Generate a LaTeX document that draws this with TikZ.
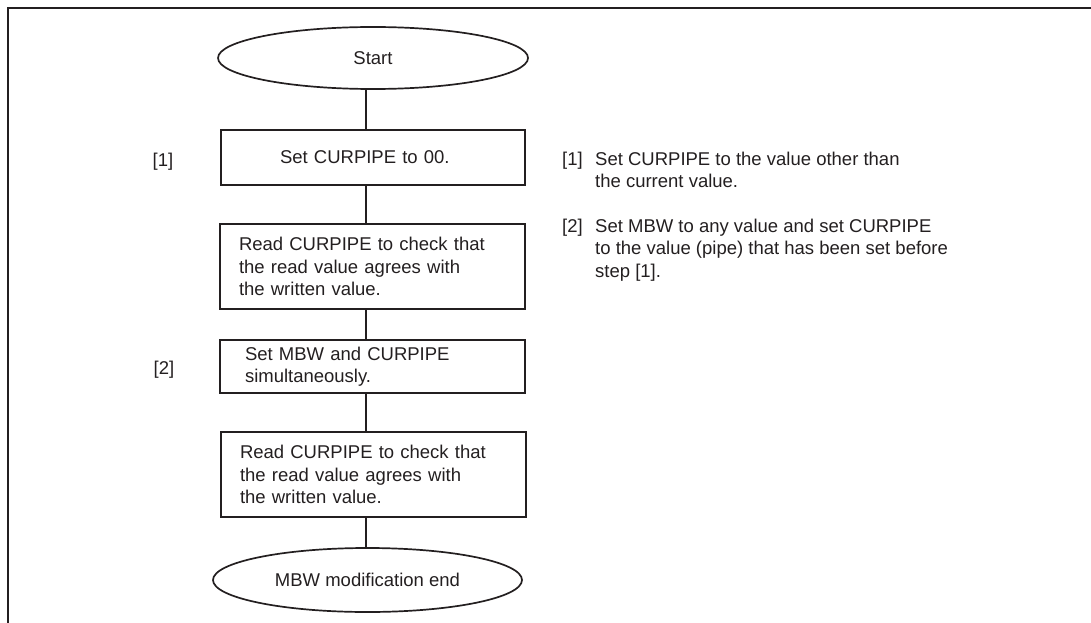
\documentclass[tikz,border=0pt]{standalone}
\usepackage{fontspec}
\setmainfont{Liberation Sans}
\usetikzlibrary{shapes.geometric}
\definecolor{ink}{RGB}{35,31,32}
\begin{document}
\begin{tikzpicture}[x=1pt,y=-1pt,
  every node/.style={font=\fontsize{18.5}{22.5}\selectfont, text=ink},
  term/.style={draw=ink, ellipse, line width=1.7pt, inner sep=0pt},
  stepbox/.style={draw=ink, rectangle, line width=2pt, align=left, inner ysep=0pt},
  conn/.style={draw=ink, line width=2pt},
  frame/.style={draw=ink, line width=2.5pt},
  plain/.style={inner sep=0pt}
]
\useasboundingbox (0,0) rectangle (1091,623);
% frame
\coordinate (tl) at (8,8);
\coordinate (tr) at (1091,8);
\coordinate (bl) at (8,623);
\draw[frame] (tr) -- (tl) -- (bl);

% flowchart
\coordinate (spine) at (366,0);
\node[term, minimum width=310pt, minimum height=62pt] (start) at (373,58) {Start};
\node[stepbox, minimum height=55pt, inner xsep=59pt, text width=186pt] (b1) at (373,157.5) {Set CURPIPE to 00.};
\node[stepbox, minimum height=85pt, inner xsep=19pt, text width=267pt] (b2) at (372.5,266.5) {Read CURPIPE to check that\\the read value agrees with\\the written value.};
\node[stepbox, minimum height=53pt, inner xsep=25pt, text width=255pt] (b3) at (372.5,366.5) {Set MBW and CURPIPE\\simultaneously.};
\node[stepbox, minimum height=85pt, inner xsep=19pt, text width=267pt] (b4) at (373.5,474.5) {Read CURPIPE to check that\\the read value agrees with\\the written value.};
\node[term, minimum width=309pt, minimum height=64pt] (end) at (367.5,580) {MBW modification end};

\draw[conn] (start.south -| spine) -- (b1.north -| spine);
\draw[conn] (b1.south -| spine) -- (b2.north -| spine);
\draw[conn] (b2.south -| spine) -- (b3.north -| spine);
\draw[conn] (b3.south -| spine) -- (b4.north -| spine);
\draw[conn] (b4.south -| spine) -- (end.north -| spine);

% step labels
\node[plain] (l1) at (163,162) {[1]};
\node[plain] (l2) at (164,370) {[2]};

% notes
\node[plain, anchor=base west] (n1) at (562,165) {[1]};
\node[plain, anchor=base west] (n1t) at (595,165) {\vtop{\hbox{Set CURPIPE to the value other than}\hbox{the current value.}}};
\node[plain, anchor=base west] (n2) at (562,232) {[2]};
\node[plain, anchor=base west] (n2t) at (595,232) {\vtop{\hbox{Set MBW to any value and set CURPIPE}\hbox{to the value (pipe) that has been set before}\hbox{step [1].}}};
\end{tikzpicture}
\end{document}
